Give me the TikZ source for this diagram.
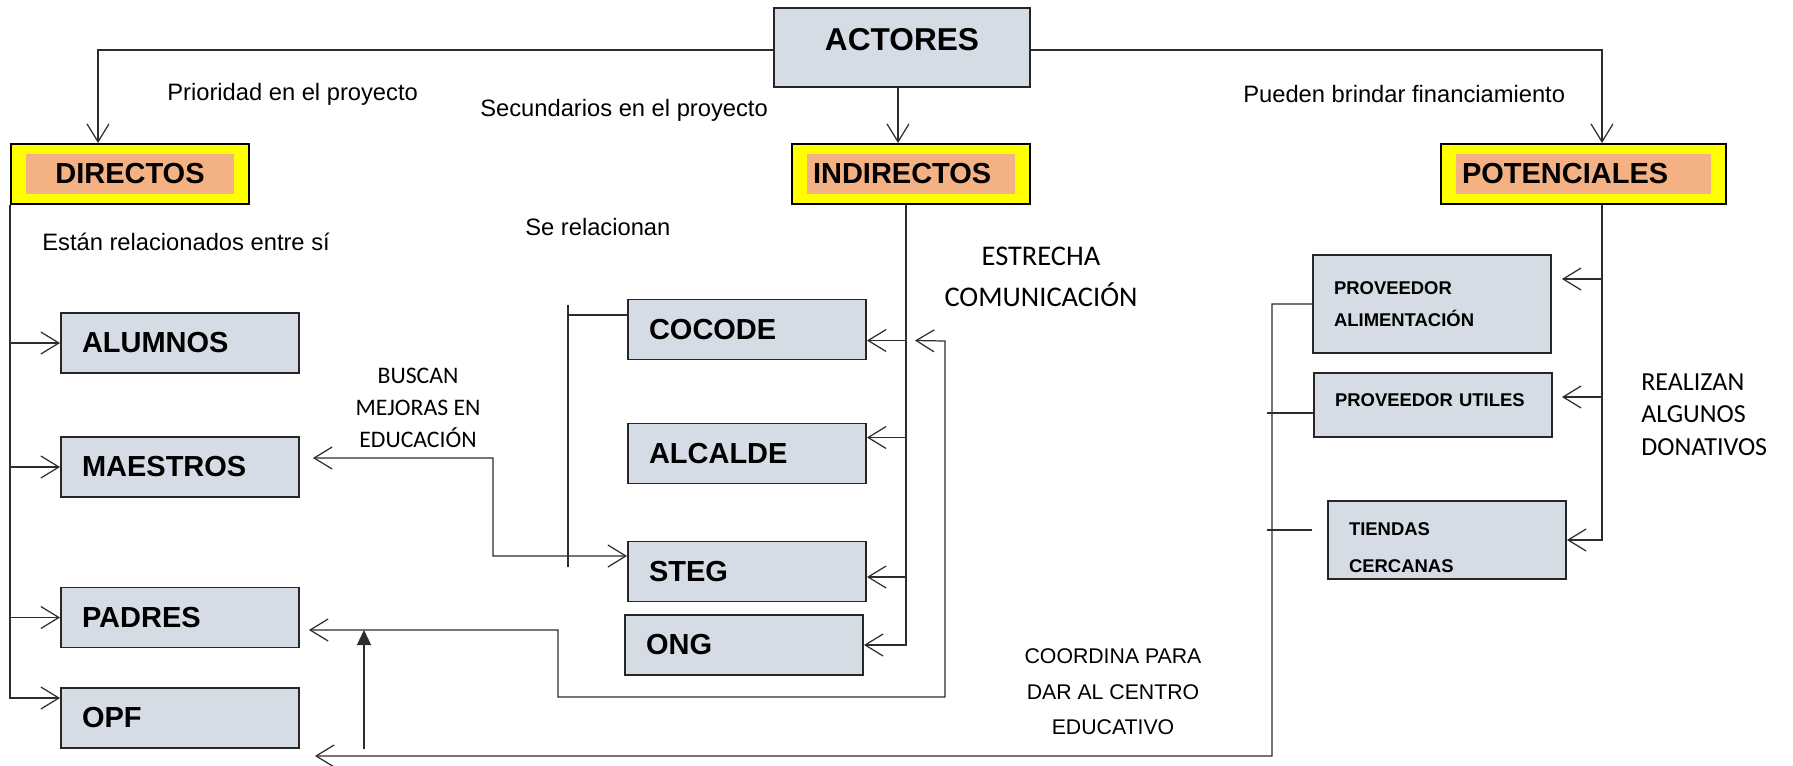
\documentclass[tikz,border=0pt]{standalone}
\usepackage{fontspec}
\setmainfont{Liberation Sans}
\newfontfamily\calibri{Carlito}
\usepackage{tikz}
\usetikzlibrary{arrows.meta,calc}
\definecolor{grisazul}{RGB}{214,220,229}
\definecolor{amarillo}{RGB}{255,255,0}
\definecolor{naranja}{RGB}{244,177,131}
\definecolor{trazo}{RGB}{45,45,45}
\tikzstyle{caja} = [rectangle, draw=black!85, line width=1.1pt, fill=grisazul, text width=3.92cm, align=left, inner xsep=0.42cm, inner ysep=0pt, minimum height=1.2cm, font=\bfseries\fontsize{16.5}{19}\selectfont]
\tikzstyle{cajachica} = [caja, font=\bfseries\fontsize{10.5}{19}\selectfont]
\tikzstyle{tipo} = [rectangle, draw=black, line width=1.1pt, fill=amarillo, minimum height=1.2cm, inner xsep=0.42cm, inner ysep=0pt, align=left, font=\bfseries\fontsize{16.5}{19}\selectfont, path picture={\fill[naranja] ([xshift=0.3cm,yshift=0.2cm]path picture bounding box.south west) rectangle ([xshift=-0.3cm,yshift=-0.2cm]path picture bounding box.north east);}]
\tikzstyle{texto} = [inner sep=0pt, font=\fontsize{13.5}{16}\selectfont]
\tikzstyle{nota} = [inner sep=0pt, align=center, font=\calibri\fontsize{13.5}{18.2}\selectfont]
\tikzstyle{linea} = [draw=trazo, line width=0.7pt]
\tikzstyle{conector} = [linea, >={Straight Barb[length=0.36cm,width=0.44cm]}, ->]
\tikzstyle{flecha} = [linea, -{Triangle[length=0.3cm,width=0.28cm]}]

\begin{document}
\begin{tikzpicture}[x=0.02cm, y=-0.02cm]
    \useasboundingbox (0,0) rectangle (1793,765);
    \node (actores) [caja, anchor=north, text width=4.28cm, align=center, text height=0.86cm, text depth=0.72cm, font=\bfseries\fontsize{18}{20}\selectfont] at (902,7) {ACTORES};
    \node (directos) [tipo, text width=3.92cm, align=center] at (130,174) {DIRECTOS};
    \node (indirectos) [tipo, text width=3.92cm] at (911,174) {INDIRECTOS};
    \node (potenciales) [tipo, text width=4.86cm] at (1583.5,174) {POTENCIALES};
    \node (alumnos) [caja] at (180,343) {ALUMNOS};
    \node (maestros) [caja] at (180,467) {MAESTROS};
    \node (padres) [caja] at (180,617.5) {PADRES};
    \node (opf) [caja] at (180,718) {OPF};
    \node (cocode) [caja] at (747,329.5) {COCODE};
    \node (alcalde) [caja] at (747,453.5) {ALCALDE};
    \node (steg) [caja] at (747,571.5) {STEG};
    \node (ong) [caja] at (744,645) {ONG};
    \node (alimentacion) [cajachica, minimum height=1.96cm, font=\bfseries\fontsize{10.5}{18.5}\selectfont] at (1432,304) {PROVEEDOR\\ALIMENTACIÓN\\[0.12cm]};
    \node (utiles) [cajachica, text height=0.67cm, text depth=0.61cm] at (1433,405) {PROVEEDOR UTILES};
    \node (tiendas) [cajachica, minimum height=1.56cm, font=\bfseries\fontsize{10.5}{21}\selectfont] at (1447,540) {\\[-0.16cm]TIENDAS\\CERCANAS};
    \node (prioridad) [texto, anchor=west] at (167,94.5) {Prioridad en el proyecto};
    \node (secundarios) [texto, anchor=west] at (480,110) {Secundarios en el proyecto};
    \node (financiamiento) [texto, anchor=west] at (1243,94) {Pueden brindar financiamiento};
    \node (entresi) [texto, anchor=west] at (42,242) {Están relacionados entre sí};
    \node (relacionan) [texto, anchor=west] at (525,227) {Se relacionan};
    \node (estrecha) [nota, font=\calibri\fontsize{16.2}{23.3}\selectfont] at (1041,276.5) {ESTRECHA\\COMUNICACIÓN};
    \node (buscan) [nota] at (418,408) {BUSCAN\\MEJORAS EN\\EDUCACIÓN};
    \node (donativos) [nota, align=left, anchor=west, font=\calibri\fontsize{14.8}{18.5}\selectfont] at (1641,414.5) {REALIZAN\\ALGUNOS\\DONATIVOS};
    \node (coordina) [texto, align=center, font=\fontsize{12.1}{20.2}\selectfont] at (1113,692) {COORDINA PARA\\DAR AL CENTRO\\EDUCATIVO};
    \coordinate (bajada) at ([xshift=-0.08cm]actores.south);
    \coordinate (opfpunto) at ([yshift=0.4cm]opf.west);
    \coordinate (busind) at ([xshift=-0.1cm]indirectos.south);
    \coordinate (cocodepunto) at ([yshift=-0.22cm]cocode.east);
    \coordinate (alcaldepunto) at ([yshift=0.32cm]alcalde.east);
    \coordinate (stegpunto) at ([yshift=-0.11cm]steg.east);
    \coordinate (lazo) at ($(busind |- cocodepunto)+(9,0)$);
    \coordinate (padrespunto) at ([xshift=0.18cm,yshift=-0.25cm]padres.east);
    \coordinate (maestrospunto) at ([xshift=0.26cm,yshift=0.18cm]maestros.east);
    \coordinate (relarriba) at (568,305);
    \coordinate (relabajo) at (568,567);
    \coordinate (buspot) at ([xshift=0.37cm]potenciales.south);
    \coordinate (alimpunto) at ([xshift=0.2cm,yshift=0.5cm]alimentacion.east);
    \coordinate (utilespunto) at ([xshift=0.18cm,yshift=0.16cm]utiles.east);
    \coordinate (opftip) at ([xshift=0.3cm,yshift=-0.76cm]opf.east);
    \coordinate (subida) at (364,749);
    \draw [conector] ([yshift=-0.05cm]actores.west) -| ([xshift=-0.64cm]directos.north);
    \draw [conector] ([yshift=-0.05cm]actores.east) -| ([xshift=0.37cm]potenciales.north);
    \draw [conector] (bajada) -- (bajada |- indirectos.north);
    \draw [conector] (directos.south west) |- (opfpunto);
    \foreach \n in {alumnos, maestros, padres}
        \draw [conector] (directos.south west |- \n.west) -- (\n.west);
    \draw [conector] (busind) |- (ong.east);
    \foreach \n in {cocodepunto, alcaldepunto, stegpunto}
        \draw [conector] (busind |- \n) -- (\n);
    \draw [conector, <->] (padrespunto) -| (558,697) -| (945,341) -- (lazo);
    \draw [linea] (relabajo) -- (relarriba) |- ([yshift=0.29cm]cocode.west);
    \draw [conector, <->] (maestrospunto) -| (493,556) -- ([yshift=0.31cm]steg.west);
    \draw [conector] (buspot) |- (tiendas.east);
    \foreach \n in {alimpunto, utilespunto}
        \draw [conector] (buspot |- \n) -- (\n);
    \draw [conector] (alimentacion.west) -| (1272,756) -- (opftip);
    \draw [linea] ([yshift=-0.16cm]utiles.west) -- ++(-46,0);
    \draw [linea] ([xshift=-0.3cm,yshift=0.2cm]tiendas.west) -- ++(-45,0);
    \draw [flecha] (subida) -- (subida |- padrespunto);
\end{tikzpicture}
\end{document}
